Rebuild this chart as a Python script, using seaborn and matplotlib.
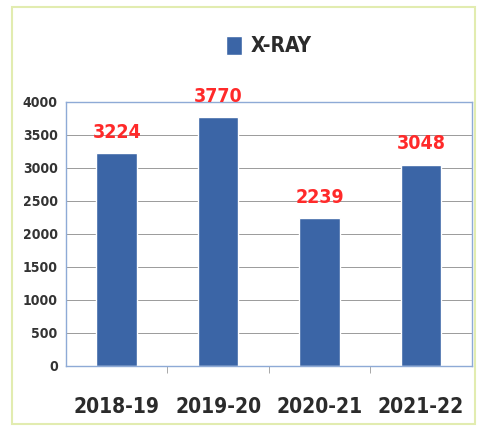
import pandas as pd
import matplotlib.pyplot as plt
import seaborn as sns
from matplotlib.patches import Rectangle

# données
years = ['2018-19', '2019-20', '2020-21', '2021-22']
xray = [3224, 3770, 2239, 3048]
series_name = 'X-RAY'

df = pd.DataFrame({'year': years, 'count': xray, 'serie': series_name})

sns.set_style('white')
plt.rcParams['font.family'] = ['DejaVu Sans']
plt.rcParams['font.stretch'] = 'condensed'

fig = plt.figure(figsize=(4.8, 4.37), dpi=100)
fig.patches.append(Rectangle((0.025, 0.03), 0.965, 0.955, transform=fig.transFigure,
                             fill=False, edgecolor='#e2ecb0', linewidth=1.5))

ax = fig.add_axes([0.1375, 0.1625, 0.845, 0.605])
sns.barplot(data=df, x='year', y='count', hue='serie', palette=['#3b65a6'],
            width=0.4, ax=ax, saturation=1)

ax.set_ylim(0, 4000)
ax.set_yticks(range(0, 4001, 500))
ax.yaxis.grid(True, color='#9a9a9a', linewidth=0.7)
ax.set_axisbelow(True)
ax.set_xlabel('')
ax.set_ylabel('')
for s in ax.spines.values():
    s.set_color('#8eaad6')
    s.set_linewidth(1)

# petits repères entre catégories
ax.set_xticks([0.5, 1.5, 2.5], minor=True)
ax.tick_params(axis='x', which='minor', length=5, color='#9a9a9a', bottom=True)

ax.tick_params(axis='y', labelsize=10, length=0, pad=6, labelcolor='#333333')
ax.tick_params(axis='x', which='major', labelsize=15, length=0, pad=22, labelcolor='#2b2b2b')
for lab in ax.get_xticklabels() + ax.get_yticklabels():
    lab.set_fontweight('bold')

for c in ax.containers:
    ax.bar_label(c, labels=[str(v) for v in xray], padding=8, color='#ff2a2a',
                 fontsize=14, fontweight='bold')

ax.legend(loc='lower center', bbox_to_anchor=(0.5, 1.1), frameon=False,
          prop={'size': 15, 'weight': 'bold'}, handlelength=0.8, handleheight=1.0,
          handletextpad=0.4, labelcolor='#2b2b2b')

plt.savefig('out.png', dpi=100)
